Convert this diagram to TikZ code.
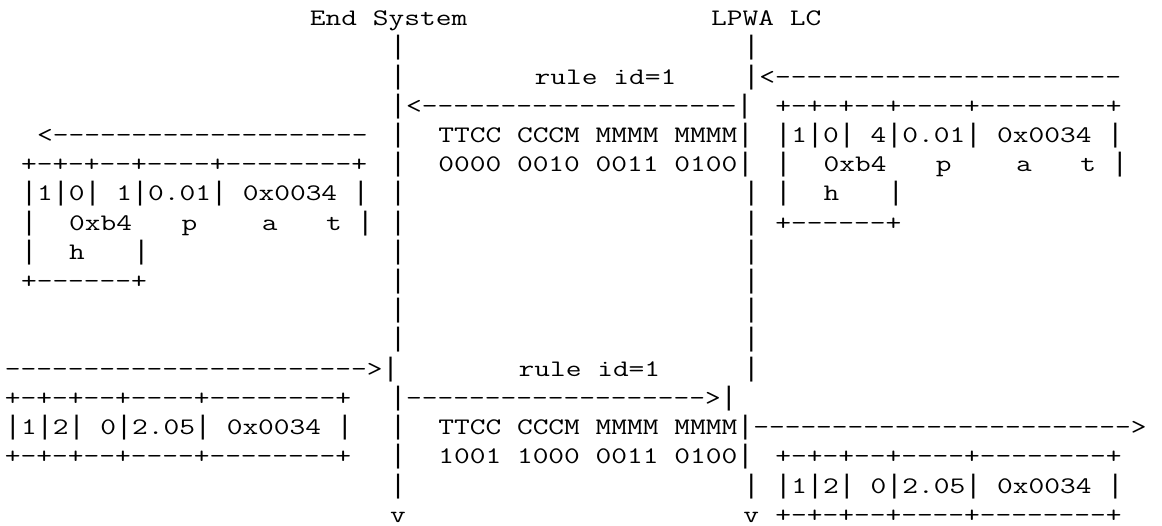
\documentclass[tikz,border=0pt]{standalone}
\usepackage{fontspec}
% long vertical bar taken from Liberation Mono, set in one typewriter cell
\newfontfamily\barfont{Liberation Mono}
\newcommand\ascpipe{\makebox[12.44pt]{\scalebox{0.7758}[1]{\barfont\fontsize{26.75}{26.75}\selectfont|}}}
% typewriter text: Latin Modern Mono, widened to a 16.05-wide character cell
\tikzset{
  seg/.style={anchor=base west, inner sep=0pt, outer sep=0pt, xscale=1.289,
    font=\ttfamily\fontsize{23.7}{29.2}\selectfont, text=black}
}
% \cell{name}{column}{row}{text}; rows are 29.2 apart, counted from the top
\newcommand\cell[4]{\node[seg] (#1) at ({5+16.05*#2},{-(25.8+29.2*#3)}) {#4};}
\begin{document}
\begin{tikzpicture}[x=1pt,y=1pt]
\useasboundingbox (0,0) rectangle (1162,-526);

% headers
\cell{es}{19}{0}{End System}
\cell{lc}{44}{0}{LPWA LC}

% the two lifelines
\foreach \r in {1,2,4,5,6,7,8,9,10,11,14,15,16}{
  \cell{esl\r}{24}{\r}{\ascpipe}
}
\foreach \r in {1,6,7,8,9,10,11,12,16}{
  \cell{lcl\r}{46}{\r}{\ascpipe}
}

% downlink: rule id=1
\cell{rid1}{33}{2}{rule id=1}
\cell{dnin}{46}{2}{\ascpipe{}<----------------------}
\cell{dnmid}{24}{3}{\ascpipe{}<--------------------\ascpipe{}}
\cell{dnout}{2}{4}{<--------------------}
\cell{dnhdrT}{27}{4}{TTCC CCCM MMMM MMMM\ascpipe{}}
\cell{dnhdrB}{27}{5}{0000 0010 0011 0100\ascpipe{}}

% request packet seen by LPWA LC
\cell{rqa1}{48}{3}{+-+-+--+----+--------+}
\cell{rqa2}{48}{4}{\ascpipe{}1\ascpipe{}0\ascpipe{} 4\ascpipe{}0.01\ascpipe{} 0x0034 \ascpipe{}}
\cell{rqa3}{48}{5}{\ascpipe}
\cell{rqa4}{51}{5}{0xb4}
\cell{rqa5}{58}{5}{p}
\cell{rqa6}{63}{5}{a}
\cell{rqa7}{67}{5}{t \ascpipe{}}
\cell{rqa8}{48}{6}{\ascpipe}
\cell{rqa9}{51}{6}{h}
\cell{rqa10}{55}{6}{\ascpipe}
\cell{rqa11}{48}{7}{+------+}

% request packet delivered by End System
\cell{rqb1}{1}{5}{+-+-+--+----+--------+}
\cell{rqb2}{1}{6}{\ascpipe{}1\ascpipe{}0\ascpipe{} 1\ascpipe{}0.01\ascpipe{} 0x0034 \ascpipe{}}
\cell{rqb3}{1}{7}{\ascpipe}
\cell{rqb4}{4}{7}{0xb4}
\cell{rqb5}{11}{7}{p}
\cell{rqb6}{16}{7}{a}
\cell{rqb7}{20}{7}{t \ascpipe{}}
\cell{rqb8}{1}{8}{\ascpipe}
\cell{rqb9}{4}{8}{h}
\cell{rqb10}{8}{8}{\ascpipe}
\cell{rqb11}{1}{9}{+------+}

% uplink: rule id=1
\cell{upin}{0}{12}{----------------------->\ascpipe{}}
\cell{rid2}{32}{12}{rule id=1}
\cell{upmid}{24}{13}{\ascpipe{}------------------->\ascpipe{}}
\cell{uphdrT}{27}{14}{TTCC CCCM MMMM MMMM\ascpipe{}------------------------>}
\cell{uphdrB}{27}{15}{1001 1000 0011 0100\ascpipe{}}

% response packet entering End System
\cell{rsa1}{0}{13}{+-+-+--+----+--------+}
\cell{rsa2}{0}{14}{\ascpipe{}1\ascpipe{}2\ascpipe{} 0\ascpipe{}2.05\ascpipe{} 0x0034 \ascpipe{}}
\cell{rsa3}{0}{15}{+-+-+--+----+--------+}

% response packet leaving LPWA LC
\cell{rsb1}{48}{15}{+-+-+--+----+--------+}
\cell{rsb2}{48}{16}{\ascpipe{}1\ascpipe{}2\ascpipe{} 0\ascpipe{}2.05\ascpipe{} 0x0034 \ascpipe{}}
\cell{rsb3}{48}{17}{+-+-+--+----+--------+}

% lifeline ends
\cell{esend}{24}{17}{v}
\cell{lcend}{46}{17}{v}
\end{tikzpicture}
\end{document}
